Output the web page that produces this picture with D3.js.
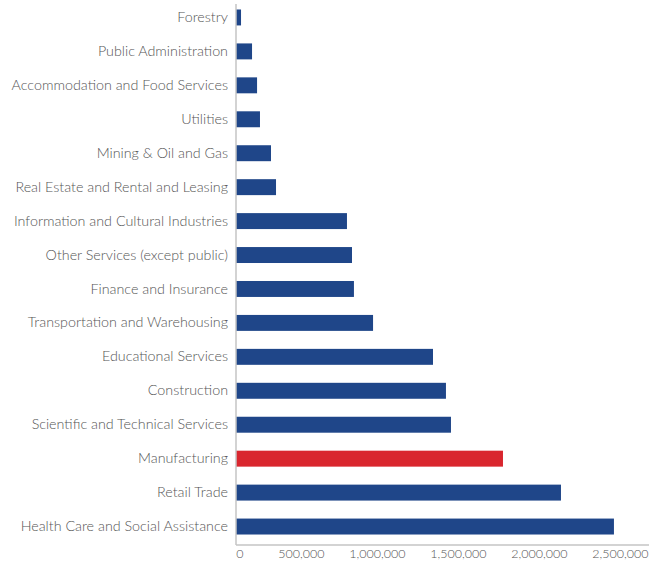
<!DOCTYPE html>
<html>
<head>
<meta charset="utf-8">
<script src="https://cdn.jsdelivr.net/npm/d3@7"></script>
<style>
  html, body { margin: 0; padding: 0; background: #fff; }
  svg { display: block; }
  text { font-family: Lato, "Open Sans", sans-serif; font-weight: 300; fill: #555; }
</style>
</head>
<body>
<svg id="chart" width="649" height="563"></svg>
<script>
// Industries, top to bottom
const industries = [
  "Forestry",
  "Public Administration",
  "Accommodation and Food Services",
  "Utilities",
  "Mining & Oil and Gas",
  "Real Estate and Rental and Leasing",
  "Information and Cultural Industries",
  "Other Services (except public)",
  "Finance and Insurance",
  "Transportation and Warehousing",
  "Educational Services",
  "Construction",
  "Scientific and Technical Services",
  "Manufacturing",
  "Retail Trade",
  "Health Care and Social Assistance"
];
const values = [
  31000, 99000, 130000, 148000, 216000, 247000, 685000, 716000,
  728000, 846000, 1216000, 1296000, 1327000, 1648000, 2006000, 2333000
];
const highlighted = ["Manufacturing"];
const tickValues = [0, 500000, 1000000, 1500000, 2000000, 2500000];

const svg = d3.select("#chart");
const x0 = 236, xMax = 641, yTop = 1, yBottom = 543;

const x = d3.scaleLinear().domain([0, 2500000]).range([x0, xMax]);
const y = d3.scaleBand().domain(industries).range([yTop, yBottom]).paddingInner(0.53).paddingOuter(0.25);

// bars
svg.append("g").selectAll("rect")
  .data(industries)
  .join("rect")
  .attr("x", x(0))
  .attr("y", d => y(d))
  .attr("width", (d, i) => x(values[i]) - x(0))
  .attr("height", y.bandwidth())
  .attr("fill", d => highlighted.includes(d) ? "#d9262e" : "#1f4689");

// category axis
const yAxis = d3.axisLeft(y).tickSize(0).tickPadding(8);
const gy = svg.append("g").attr("transform", `translate(${x0},0)`).call(yAxis);
gy.select(".domain").attr("stroke", "#c4c4c4").attr("stroke-width", 1.5)
  .attr("d", `M0,4V545`);
gy.selectAll("text").style("font-size", "14.3px").attr("fill", "#555")
  .style("font-family", "Lato, sans-serif").style("font-weight", 300);

// value axis
const xAxis = d3.axisBottom(x).tickValues(tickValues).tickSize(0).tickPadding(4)
  .tickFormat(d3.format(","));
const gx = svg.append("g").attr("transform", `translate(0,545)`).call(xAxis);
gx.select(".domain").attr("stroke", "#c4c4c4").attr("stroke-width", 1.5)
  .attr("d", `M${x0},0H649`);
gx.selectAll("text").style("font-size", "12.5px").attr("fill", "#888")
  .attr("text-anchor", "end").attr("dx", 7)
  .style("font-family", "Lato, sans-serif").style("font-weight", 300);
</script>
</body>
</html>
